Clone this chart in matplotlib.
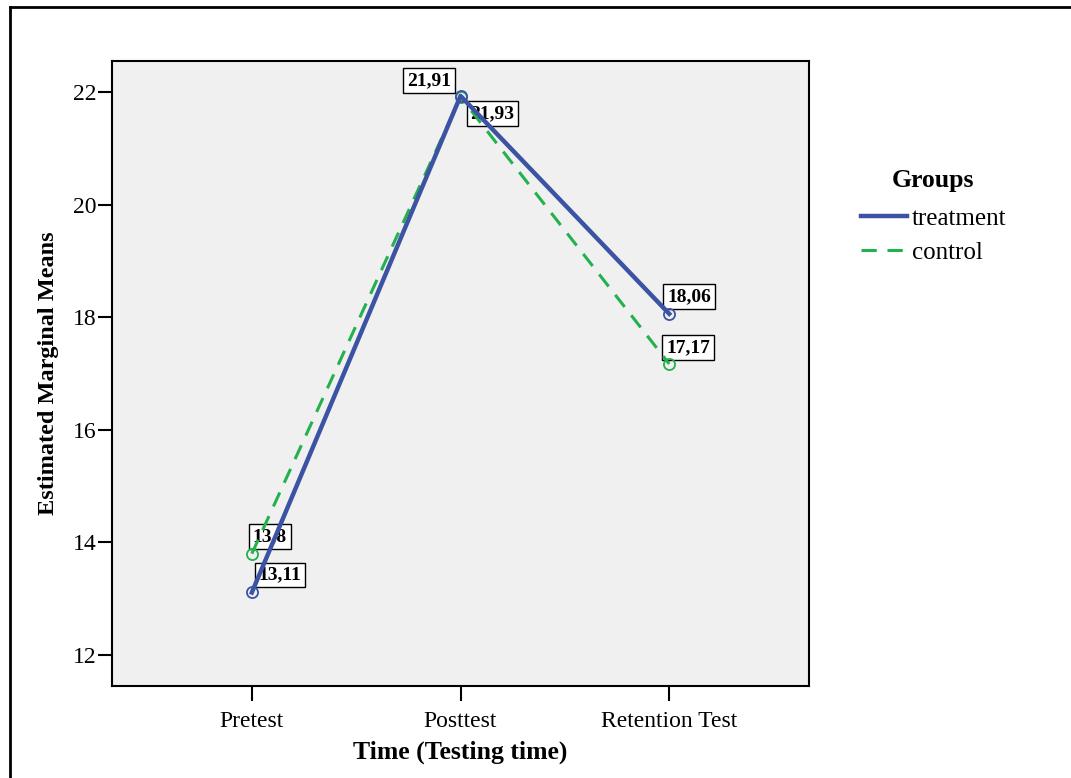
import matplotlib.pyplot as plt
from matplotlib.lines import Line2D

plt.rcParams['font.family'] = ['Liberation Serif', 'DejaVu Serif']

# data
times = ['Pretest', 'Posttest', 'Retention Test']
treatment = [13.11, 21.93, 18.06]
control = [13.8, 21.91, 17.17]
treat_labels = ['13,11', '21,93', '18,06']
ctrl_labels = ['13,8', '21,91', '17,17']
yticks = [12, 14, 16, 18, 20, 22]

blue = '#3c53a4'
green = '#22b14c'

fig = plt.figure(figsize=(10.71, 7.78), dpi=100)
ax = fig.add_axes([0.1046, 0.1183, 0.6508, 0.8033])
ax.set_facecolor('#f0f0f0')

x = list(range(len(times)))
ax.plot(x, control, color=green, lw=2.2, dashes=(5, 3.5),
        marker='o', mfc='none', mec=green, ms=8, mew=1.3, label='control', zorder=3)
ax.plot(x, treatment, color=blue, lw=3.2,
        marker='o', mfc='none', mec=blue, ms=8, mew=1.3, label='treatment', zorder=4)

fs_lab = 14
box = dict(boxstyle='square,pad=0.2', fc='white', ec='black', lw=1)
# text offsets in points (dx, dy, ha, va)
treat_off = [(5.0, 6.4, 'left', 'bottom'), (7.1, -6.4, 'left', 'top'), (-1.5, 6.4, 'left', 'bottom')]
ctrl_off = [(0.6, 6.4, 'left', 'bottom'), (-7.1, 5.7, 'right', 'bottom'), (-2.2, 5.7, 'left', 'bottom')]
for i in x:
    dx, dy, ha, va = treat_off[i]
    ax.annotate(treat_labels[i], (x[i], treatment[i]), xytext=(dx, dy), textcoords='offset points',
                ha=ha, va=va, fontsize=fs_lab, fontweight='bold', bbox=box, zorder=2)
    dx, dy, ha, va = ctrl_off[i]
    ax.annotate(ctrl_labels[i], (x[i], control[i]), xytext=(dx, dy), textcoords='offset points',
                ha=ha, va=va, fontsize=fs_lab, fontweight='bold', bbox=box, zorder=2)

ax.set_xlim(-0.67, 2.67)
ax.set_ylim(11.45, 22.55)
ax.set_xticks(x)
ax.set_xticklabels(times)
ax.set_yticks(yticks)
ax.tick_params(axis='both', labelsize=17, width=1.5)
ax.tick_params(axis='y', length=10, pad=1)
ax.tick_params(axis='x', length=11, pad=7)
for s in ax.spines.values():
    s.set_linewidth(1.5)

ax.set_xlabel('Time (Testing time)', fontsize=18.5, fontweight='bold', labelpad=6)
ax.set_ylabel('Estimated Marginal Means', fontsize=17.5, fontweight='bold', labelpad=10)

# legend: title as separate text, entries below
fig.text(933 / 1071, 1 - 181 / 778, 'Groups', fontsize=18.5, fontweight='bold', ha='center', va='center')
h, l = ax.get_legend_handles_labels()
leg = fig.legend([h[1], h[0]], [l[1], l[0]], loc='upper left', bbox_to_anchor=(0.792, 1 - 195 / 778),
                 frameon=False, fontsize=18, handlelength=1.85,
                 handletextpad=0.2, labelspacing=0.45, borderpad=0)
for lh in leg.get_lines():
    lh.set_marker('')

# outer frame (partially cropped)
fig.add_artist(Line2D([10 / 1071, 10 / 1071], [0, 1 - 7 / 778], transform=fig.transFigure, color='black', lw=2))
fig.add_artist(Line2D([10 / 1071, 1], [1 - 7 / 778, 1 - 7 / 778], transform=fig.transFigure, color='black', lw=2))

fig.savefig('out.png', dpi=100)
